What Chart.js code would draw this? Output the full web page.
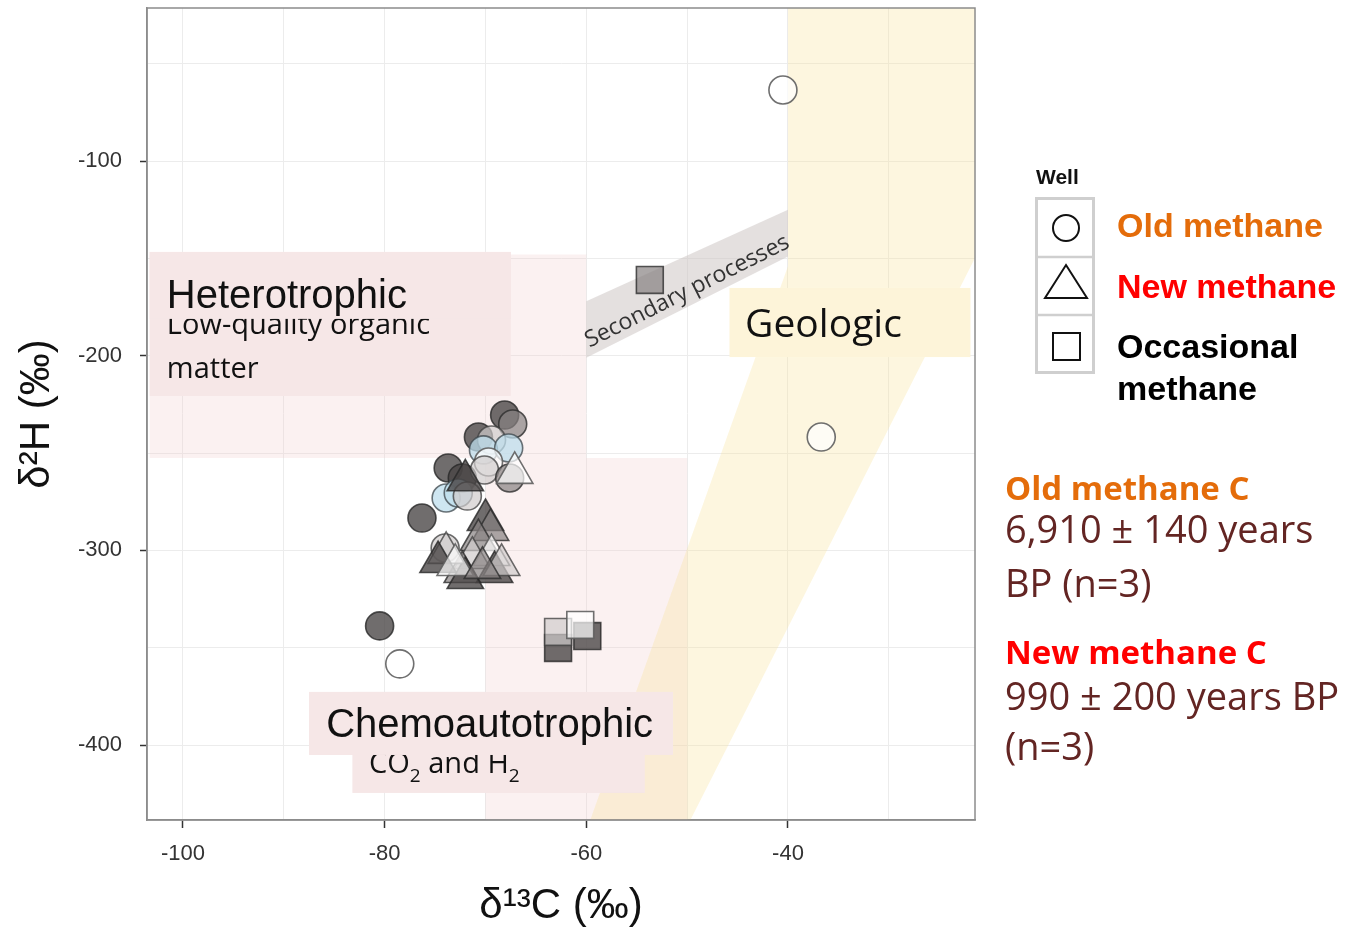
<!DOCTYPE html>
<html>
<head>
<meta charset="utf-8">
<script src="https://cdn.jsdelivr.net/npm/chart.js@4.4.0/dist/chart.umd.min.js"></script>
<style>
  body { margin: 0; background: #fff; }
  #wrap { position: relative; width: 1348px; height: 932px; }
  #plot { position: absolute; left: 0; top: 0; }
  .side { position: absolute; white-space: nowrap; line-height: 1; margin: 0; }
  .key { font-family: "Liberation Sans", Arial, sans-serif; font-weight: bold; font-size: 34px; }
  .head { font-family: "Open Sans", sans-serif; font-weight: bold; font-size: 33px; }
  .age { font-family: "Open Sans", sans-serif; font-size: 38px; color: #632523; }
</style>
</head>
<body>
<div id="wrap">
  <canvas id="plot" width="1348" height="932"></canvas>

  <div class="side" style="left:1036px;top:165px;font:bold 21px 'Liberation Sans';color:#111;">Well</div>
  <svg class="side" style="left:1030px;top:190px" width="75" height="190">
    <rect x="6.5" y="8.5" width="57" height="174" fill="#fff" stroke="#cfcfcf" stroke-width="3"/>
    <line x1="5" y1="67" x2="65" y2="67" stroke="#cfcfcf" stroke-width="2.5"/>
    <line x1="5" y1="125" x2="65" y2="125" stroke="#cfcfcf" stroke-width="2.5"/>
    <circle cx="36" cy="38" r="13" fill="none" stroke="#111" stroke-width="2"/>
    <polygon points="36,75 57,108 15,108" fill="none" stroke="#111" stroke-width="2"/>
    <rect x="23" y="143" width="27" height="27" fill="none" stroke="#111" stroke-width="2"/>
  </svg>
  <div class="side key" style="left:1117px;top:208px;color:#e46c0a;">Old methane</div>
  <div class="side key" style="left:1117px;top:269px;color:#ff0000;">New methane</div>
  <div class="side key" style="left:1117px;top:329px;color:#000;">Occasional</div>
  <div class="side key" style="left:1117px;top:371px;color:#000;">methane</div>

  <div class="side head" style="left:1005px;top:471px;color:#e46c0a;">Old methane C</div>
  <div class="side age" style="left:1005px;top:509px;">6,910 ± 140 years</div>
  <div class="side age" style="left:1005px;top:563px;">BP (n=3)</div>
  <div class="side head" style="left:1005px;top:635px;color:#ff0000;">New methane C</div>
  <div class="side age" style="left:1005px;top:676px;">990 ± 200 years BP</div>
  <div class="side age" style="left:1005px;top:726px;">(n=3)</div>
</div>

<script>
// isotope values per sample: δ13C (x) and δ2H (y), in permil
// shade: 0 dark, 1 mid grey, 2 light grey, 3 pale blue, 4 white
const oldX = [-40.5, -36.7, -80.5, -78.5, -76.3, -68.1, -67.3, -70.7, -69.4, -70.2, -67.7, -73.7, -72.3, -69.7, -70.1, -67.6, -73.9, -72.7, -71.8, -74.0];
const oldY = [-63.5, -241.8, -338.8, -358.3, -283.4, -230.5, -235.1, -241.8, -243.3, -248.4, -247.4, -257.7, -262.8, -254.6, -258.7, -262.8, -273.1, -270.5, -272.1, -298.8];
const oldShade = [4, 4, 0, 4, 0, 0, 1, 0, 2, 3, 3, 0, 0, 4, 2, 1, 3, 3, 2, 2];

const newX = [-72.0, -67.1, -70.0, -69.5, -70.7, -69.4, -71.3, -72.3, -69.1, -72.0, -68.4, -73.9, -74.7, -73.0, -70.3];
const newY = [-264.0, -260.2, -284.4, -289.5, -294.7, -302.4, -303.9, -311.1, -311.1, -314.2, -307.5, -301.3, -306.0, -307.5, -309.0];
const newShade = [0, 4, 0, 1, 1, 4, 2, 1, 0, 0, 2, 2, 0, 4, 1];

const occX = [-53.7, -62.8, -59.9, -62.8, -60.6];
const occY = [-161.1, -350.1, -344.0, -341.9, -338.3];
const occShade = [1, 0, 0, 2, 4];

const xTicks = [-100, -80, -60, -40];
const yTicks = [-100, -200, -300, -400];

const FILLS = ['rgba(72,68,68,0.78)', 'rgba(135,130,130,0.7)', 'rgba(208,204,204,0.7)', 'rgba(190,222,236,0.75)', 'rgba(255,255,255,0.7)'];
const EDGES = ['rgba(40,40,40,0.8)', 'rgba(45,45,45,0.8)', 'rgba(60,60,60,0.75)', 'rgba(60,70,75,0.75)', 'rgba(95,95,95,0.9)'];

function points(xs, ys) {
  return xs.map((x, i) => ({x: x, y: ys[i]}));
}

function series(label, xs, ys, shade, style, radius) {
  return {
    label: label,
    data: points(xs, ys),
    pointStyle: style,
    pointRadius: radius,
    pointBorderWidth: 1.6,
    backgroundColor: shade.map(s => FILLS[s]),
    borderColor: shade.map(s => EDGES[s])
  };
}

const PINK = 'rgba(240,200,198,0.25)';
const YELLOW = 'rgba(250,226,150,0.3)';
const GREY = 'rgba(205,198,196,0.55)';
const BOX_PINK = '#f6e7e7';
const BOX_YELLOW = '#fdf4d9';

// source fields and their labels, drawn under the samples
const zones = {
  id: 'zones',
  beforeDatasetsDraw(chart) {
    const {ctx, chartArea: area, scales} = chart;
    const X = v => scales.x.getPixelForValue(v);
    const Y = v => scales.y.getPixelForValue(v);

    const shape = (pts, fill) => {
      ctx.beginPath();
      pts.forEach(([vx, vy], i) => i ? ctx.lineTo(X(vx), Y(vy)) : ctx.moveTo(X(vx), Y(vy)));
      ctx.closePath();
      ctx.fillStyle = fill;
      ctx.fill();
    };
    const box = (x0, y0, x1, y1, fill) => {
      ctx.fillStyle = fill;
      ctx.fillRect(X(x0), Y(y0), X(x1) - X(x0), Y(y1) - Y(y0));
    };
    const text = (str, px, py, font) => {
      ctx.font = font;
      ctx.fillStyle = '#111';
      ctx.fillText(str, px, py);
      return px + ctx.measureText(str).width;
    };

    ctx.save();
    ctx.beginPath();
    ctx.rect(area.left, area.top, area.width, area.height);
    ctx.clip();
    ctx.textAlign = 'left';
    ctx.textBaseline = 'alphabetic';

    shape([[-103.3, -148], [-60, -148], [-60, -252.5], [-103.3, -252.5]], PINK);
    shape([[-70, -252.5], [-50, -252.5], [-50, -450], [-70, -450]], PINK);
    shape([[-40, 0], [-20, 0], [-20, -135], [-50.8, -450], [-60.4, -450], [-40, -154]], YELLOW);
    shape([[-60, -172], [-40, -125], [-40, -149], [-60, -201]], GREY);

    // label running along the secondary-processes band
    const ang = Math.atan2(Y(-149) - Y(-201), X(-40) - X(-60));
    ctx.save();
    ctx.translate(X(-50), Y(-167));
    ctx.rotate(ang);
    ctx.textAlign = 'center';
    ctx.textBaseline = 'middle';
    ctx.font = '23px "Open Sans"';
    ctx.fillStyle = '#333';
    ctx.fillText('Secondary processes', 0, 0);
    ctx.restore();

    // heterotrophic label (subtitle partly hidden under the title box)
    box(-103.3, -146.7, -67.5, -220.7, BOX_PINK);
    text('Low-quality organic', X(-101.6), Y(-188.9), '29px "Open Sans"');
    text('matter', X(-101.6), Y(-211.5), '29px "Open Sans"');
    box(-103.3, -146.7, -67.5, -181.1, BOX_PINK);
    text('Heterotrophic', X(-101.6), Y(-175.5), '40px "Liberation Sans"');

    // chemoautotrophic label
    box(-83.2, -372.7, -54.2, -424.6, BOX_PINK);
    let cx = X(-81.55);
    const cy = Y(-414.3);
    cx = text('CO', cx, cy, '29px "Open Sans"');
    cx = text('2', cx, cy + 9, '19px "Open Sans"');
    cx = text(' and H', cx, cy, '29px "Open Sans"');
    text('2', cx, cy + 9, '19px "Open Sans"');
    box(-87.5, -372.7, -51.4, -405.1, BOX_PINK);
    text('Chemoautotrophic', X(-85.8), Y(-395.8), '40px "Liberation Sans"');

    // geologic label
    box(-45.8, -165.2, -21.9, -200.7, BOX_YELLOW);
    text('Geologic', X(-44.25), Y(-190.4), '39px "Open Sans"');

    ctx.restore();
  },
  afterDraw(chart) {
    const {ctx, chartArea: a} = chart;
    ctx.save();
    ctx.strokeStyle = '#8c8c8c';
    ctx.lineWidth = 1.5;
    ctx.strokeRect(a.left, a.top, a.width, a.height);
    ctx.restore();
  }
};

const tickFont = {family: 'Liberation Sans', size: 22};
const titleFont = {family: 'Liberation Sans', size: 42};

new Chart(document.getElementById('plot'), {
  type: 'scatter',
  data: {
    datasets: [
      series('New methane', newX, newY, newShade, 'triangle', 21),
      series('Old methane', oldX, oldY, oldShade, 'circle', 14),
      series('Occasional methane', occX, occY, occShade, 'rect', 19)
    ]
  },
  options: {
    responsive: false,
    animation: false,
    events: [],
    layout: {autoPadding: false, padding: {left: 0, right: 373, top: 8, bottom: 0}},
    plugins: {legend: {display: false}, tooltip: {enabled: false}},
    scales: {
      x: {
        type: 'linear',
        min: -103.57,
        max: -21.45,
        afterFit(scale) {
          scale.height = 112;
          scale.paddingLeft = 0;
          scale.paddingRight = 0;
        },
        ticks: {
          stepSize: 10,
          includeBounds: false,
          autoSkip: false,
          maxRotation: 0,
          padding: 13,
          color: '#333',
          font: tickFont,
          callback: v => xTicks.includes(v) ? String(v) : ''
        },
        grid: {
          color: '#ececec',
          lineWidth: 1,
          tickLength: 8,
          tickWidth: 1.5,
          tickColor: c => (c.tick && xTicks.includes(c.tick.value)) ? '#333' : 'rgba(0,0,0,0)'
        },
        border: {display: true, color: '#8c8c8c', width: 1.5},
        title: {display: true, text: 'δ¹³C (‰)', color: '#111', font: titleFont, padding: {top: 0, bottom: 0}}
      },
      y: {
        type: 'linear',
        min: -438.5,
        max: -21.4,
        afterFit(scale) {
          scale.width = 147;
          scale.paddingTop = 0;
          scale.paddingBottom = 0;
        },
        ticks: {
          stepSize: 50,
          includeBounds: false,
          autoSkip: false,
          padding: 18,
          color: '#333',
          font: tickFont,
          callback: v => yTicks.includes(v) ? String(v) : ''
        },
        grid: {
          color: '#ececec',
          lineWidth: 1,
          tickLength: 7,
          tickWidth: 1.5,
          tickColor: c => (c.tick && yTicks.includes(c.tick.value)) ? '#333' : 'rgba(0,0,0,0)'
        },
        border: {display: true, color: '#8c8c8c', width: 1.5},
        title: {display: true, text: 'δ²H (‰)', color: '#111', font: titleFont, padding: {top: 12, bottom: 0}}
      }
    }
  },
  plugins: [zones]
});
</script>
</body>
</html>
